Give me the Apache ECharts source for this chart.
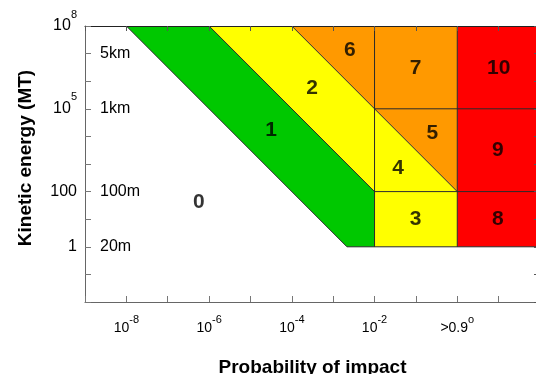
<!DOCTYPE html>
<html>
<head>
<meta charset="utf-8">
<script src="https://cdn.jsdelivr.net/npm/echarts@6/dist/echarts.min.js"></script>
<style>
  html, body { margin: 0; padding: 0; background: #fff; }
  #main { width: 536px; height: 374px; }
</style>
</head>
<body>
<div id="main"></div>
<script>
// x: one tick per decade of impact probability (1 = 1e-8 ... 9 = >0.99)
// y: log10 of kinetic energy in MT (-2 ... 8)
var xTickLabels = { 1: ['10', '-8'], 3: ['10', '-6'], 5: ['10', '-4'], 7: ['10', '-2'], 9: ['>0.9', 'o'] };
var yTickLabels = { 8: ['10', '8'], 5: ['10', '5'], 2: ['100', ''], 0: ['1', ''] };
var ySizeLabels = { 7: '5km', 5: '1km', 2: '100m', 0: '20m' };

// torino scale zones
var greenZone = [[1, 8], [3, 8], [7, 2], [7, 0], [6.333, 0]];
var yellowZone = [[3, 8], [5, 8], [9, 2], [7, 2]];
var yellowBox = [[7, 0], [9, 0], [9, 2], [7, 2]];
var orangeZone = [[5, 8], [9, 8], [9, 2]];
var redZone = [[9, 0], [11, 0], [11, 8], [9, 8]];

var boundaryLines = [
  [[1, 8], [6.333, 0]],
  [[3, 8], [7, 2]],
  [[5, 8], [9, 2]],
  [[7, 0], [7, 8]],
  [[9, 0], [9, 8]],
  [[7, 5], [11, 5]],
  [[7, 2], [11, 2]],
  [[6.333, 0], [11, 0]]
];

var scaleText = ['0', '1', '2', '3', '4', '5', '6', '7', '8', '9', '10'];
var scaleX = [2.75, 4.5, 5.49, 7.99, 7.57, 8.4, 6.4, 7.99, 9.98, 9.98, 10.0];
var scaleY = [1.63, 4.21, 5.74, 1.0, 2.84, 4.11, 7.11, 6.47, 1.0, 3.51, 6.48];

var zones = [greenZone, yellowZone, yellowBox, orangeZone, redZone];
var zoneColors = ['#00c800', '#ffff00', '#ffff00', '#ff9900', '#ff0000'];

var labelData = [];
for (var i = 0; i < scaleText.length; i++) {
  labelData.push([scaleX[i], scaleY[i], scaleText[i]]);
}

var FONT = 'Liberation Sans, Arial, sans-serif';
var tickStyle = { show: true, inside: true, length: 6, lineStyle: { color: '#777' } };

var option = {
  animation: false,
  grid: { left: 85, top: 26, right: -4, bottom: 72, outerBoundsMode: 'none', containLabel: false },
  xAxis: [{
    type: 'value', min: 0, max: 11, interval: 1, position: 'bottom', z: 10,
    axisLine: { show: true, onZero: false, lineStyle: { color: '#666' } },
    axisTick: tickStyle,
    splitLine: { show: false },
    axisLabel: {
      margin: 12, fontFamily: FONT, color: '#000', showMinLabel: true, showMaxLabel: true,
      formatter: function(v) {
        var l = xTickLabels[v];
        if (!l) return '';
        return '{b|' + l[0] + '}{s|' + l[1] + '}';
      },
      rich: {
        b: { fontSize: 14, fontFamily: FONT, color: '#000' },
        s: { fontSize: 11, fontFamily: FONT, color: '#000', padding: [0, 0, 18, 0] }
      }
    },
    name: 'Probability of impact', nameLocation: 'middle', nameGap: 56,
    nameTextStyle: { fontSize: 19, fontWeight: 'bold', fontFamily: FONT, color: '#000' }
  }, {
    type: 'value', min: 0, max: 11, interval: 1, position: 'top', z: 10,
    axisLine: { show: true, onZero: false, lineStyle: { color: '#222' } },
    axisTick: { show: true, inside: true, length: 5, lineStyle: { color: '#555' } },
    splitLine: { show: false },
    axisLabel: { show: false }
  }],
  yAxis: [{
    type: 'value', min: -2, max: 8, interval: 1, position: 'left', z: 10,
    axisLine: { show: true, onZero: false, lineStyle: { color: '#666' } },
    axisTick: tickStyle,
    splitLine: { show: false },
    axisLabel: {
      margin: 8, fontFamily: FONT, showMinLabel: true, showMaxLabel: true,
      formatter: function(v) {
        var l = yTickLabels[v];
        if (!l) return '';
        if (!l[1]) return '{b|' + l[0] + '}';
        return '{b|' + l[0] + '}{s|' + l[1] + '}';
      },
      rich: {
        b: { fontSize: 16, fontFamily: FONT, color: '#000' },
        s: { fontSize: 11, fontFamily: FONT, color: '#000', padding: [0, 0, 23, 0] }
      }
    }
  }, {
    type: 'value', min: -2, max: 8, interval: 1, position: 'left',
    axisLine: { show: false, onZero: false }, axisTick: { show: false }, splitLine: { show: false },
    axisLabel: {
      inside: true, margin: 15, fontSize: 16, fontFamily: FONT, color: '#000',
      showMaxLabel: true, showMinLabel: true,
      formatter: function(v) { return ySizeLabels[v] || ''; }
    }
  }, {
    type: 'value', min: -2, max: 8, interval: 1, position: 'right', z: 10,
    axisLine: { show: false, onZero: false },
    axisTick: { show: true, inside: true, length: 6, lineStyle: { color: '#555' } },
    splitLine: { show: false },
    axisLabel: { show: false }
  }],
  graphic: [{
    type: 'text', x: 26, y: 158, rotation: Math.PI / 2,
    style: {
      text: 'Kinetic energy (MT)', fontSize: 19, fontWeight: 'bold', fontFamily: FONT,
      fill: '#000', align: 'center', verticalAlign: 'middle'
    }
  }],
  series: [{
    type: 'custom',
    coordinateSystem: 'cartesian2d',
    data: zones.map(function(z, i) { return [i]; }),
    z: 1,
    renderItem: function(params, api) {
      var pts = zones[params.dataIndex].map(function(p) { return api.coord(p); });
      return {
        type: 'polygon',
        shape: { points: pts },
        style: { fill: zoneColors[params.dataIndex], stroke: 'none' }
      };
    },
    silent: true
  }, {
    type: 'custom',
    coordinateSystem: 'cartesian2d',
    data: boundaryLines.map(function(l, i) { return [i]; }),
    z: 2,
    renderItem: function(params, api) {
      var seg = boundaryLines[params.dataIndex];
      var a = api.coord(seg[0]);
      var b = api.coord(seg[1]);
      return {
        type: 'line',
        shape: { x1: a[0], y1: a[1], x2: b[0], y2: b[1] },
        style: { stroke: '#2a2a2a', lineWidth: 1 }
      };
    },
    silent: true
  }, {
    type: 'scatter',
    symbolSize: 0,
    z: 3,
    data: labelData,
    label: {
      show: true, position: 'inside', fontSize: 21, fontWeight: 'bold', fontFamily: FONT, color: '#000',
      formatter: function(p) { return p.data[2]; }
    },
    silent: true
  }]
};

var myChart = echarts.init(document.getElementById('main'));
myChart.setOption(option);
</script>
</body>
</html>
